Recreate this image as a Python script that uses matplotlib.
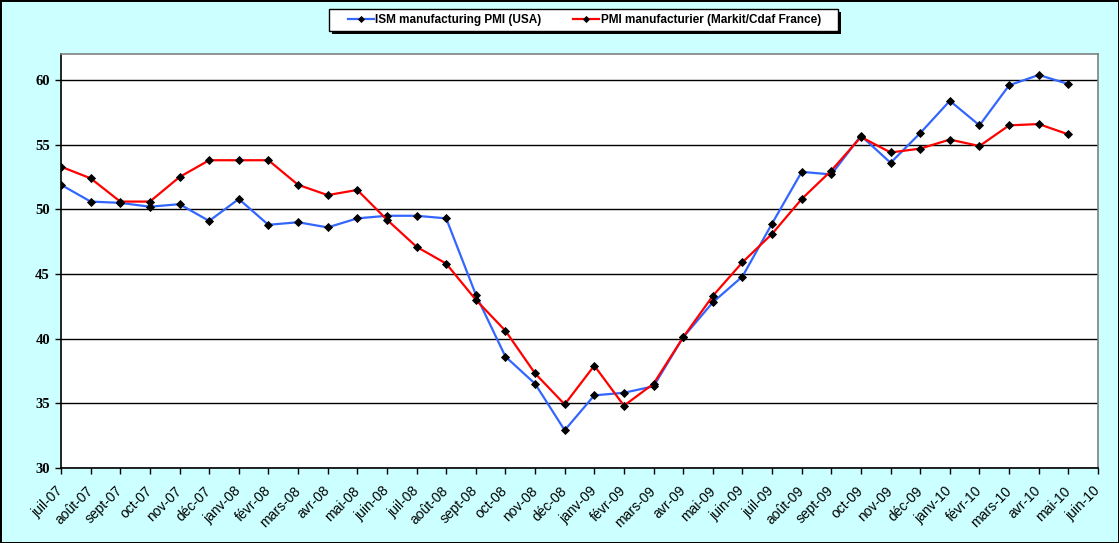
import matplotlib
matplotlib.use("Agg")
import matplotlib.pyplot as plt
import matplotlib.transforms as mtransforms
from matplotlib.patches import Rectangle
import numpy as np

months = ["juil-07", "août-07", "sept-07", "oct-07", "nov-07", "déc-07",
          "janv-08", "févr-08", "mars-08", "avr-08", "mai-08", "juin-08",
          "juil-08", "août-08", "sept-08", "oct-08", "nov-08", "déc-08",
          "janv-09", "févr-09", "mars-09", "avr-09", "mai-09", "juin-09",
          "juil-09", "août-09", "sept-09", "oct-09", "nov-09", "déc-09",
          "janv-10", "févr-10", "mars-10", "avr-10", "mai-10", "juin-10"]

ism_usa = [51.9, 50.6, 50.5, 50.2, 50.4, 49.1, 50.8, 48.8, 49.0, 48.6, 49.3, 49.5,
           49.5, 49.3, 43.4, 38.6, 36.5, 32.9, 35.6, 35.8, 36.3, 40.1, 42.8, 44.8,
           48.9, 52.9, 52.7, 55.7, 53.6, 55.9, 58.4, 56.5, 59.6, 60.4, 59.7]

pmi_france = [53.3, 52.4, 50.6, 50.6, 52.5, 53.8, 53.8, 53.8, 51.9, 51.1, 51.5, 49.2,
              47.1, 45.8, 43.0, 40.6, 37.3, 34.9, 37.9, 34.8, 36.5, 40.1, 43.3, 45.9,
              48.1, 50.8, 53.0, 55.6, 54.4, 54.7, 55.4, 54.9, 56.5, 56.6, 55.8]

label_ism = "ISM manufacturing PMI (USA)"
label_fr = "PMI manufacturier (Markit/Cdaf France)"
y_ticks = [30, 35, 40, 45, 50, 55, 60]

W, H = 1119, 543
fig = plt.figure(figsize=(W / 100, H / 100), dpi=100)
fig.patch.set_facecolor("#CCFFFF")
fig.patch.set_edgecolor("black")
fig.patch.set_linewidth(2)

ax = fig.add_axes([61 / W, 1 - 467.7 / H, (1098 - 61) / W, (467.7 - 54.3) / H])
ax.set_facecolor("white")

x = np.arange(len(months))
ax.plot(x[:len(ism_usa)], ism_usa, color="#3366FF", lw=1.6, marker="D", ms=3.8,
        mfc="black", mec="black", mew=0.6, label=label_ism, zorder=3)
ax.plot(x[:len(pmi_france)], pmi_france, color="#FF0000", lw=1.6, marker="D", ms=3.8,
        mfc="black", mec="black", mew=0.6, label=label_fr, zorder=3)

ax.set_xlim(0, len(months) - 1)
ax.set_ylim(30, 62)
ax.set_yticks(y_ticks)
ax.set_yticklabels([str(v) for v in y_ticks], fontfamily="Liberation Serif",
                   fontweight="bold", fontsize=10.5)
ax.set_xticks(x)
ax.tick_params(axis="x", labelbottom=False, direction="out", length=4, width=1)
ax.tick_params(axis="y", direction="out", length=4, width=1, pad=4)

offset = mtransforms.ScaledTranslation(-5 / 100, -16 / 100, fig.dpi_scale_trans)
lab_tr = ax.get_xaxis_transform() + offset
for i, m in enumerate(months):
    ax.text(i, 0, m, transform=lab_tr, rotation=45, ha="right", va="top",
            rotation_mode="anchor", fontfamily="Liberation Sans", fontsize=10,
            clip_on=False)

ax.yaxis.grid(True, color="black", lw=1)
ax.set_axisbelow(True)

for s in ["left", "bottom"]:
    ax.spines[s].set_color("black")
    ax.spines[s].set_linewidth(1.2)
for s in ["top", "right"]:
    ax.spines[s].set_color("#808080")
    ax.spines[s].set_linewidth(1.2)

# legend box (pixel layout) with black drop shadow
bx0, bx1, by0, by1 = 329, 838, 9, 31
fig.patches.append(Rectangle(((bx0 + 3) / W, 1 - (by1 + 3) / H), (bx1 - bx0) / W,
                             (by1 - by0) / H, transform=fig.transFigure,
                             facecolor="black", edgecolor="none", zorder=1))
fig.patches.append(Rectangle((bx0 / W, 1 - by1 / H), (bx1 - bx0) / W,
                             (by1 - by0) / H, transform=fig.transFigure,
                             facecolor="white", edgecolor="black", lw=1, zorder=2))

leg = fig.legend(loc="center", bbox_to_anchor=(584.5 / W, 1 - 20 / H), ncol=2,
                 frameon=False,
                 prop={"family": "Liberation Sans", "weight": "bold", "size": 8.5},
                 handlelength=2.2, handletextpad=0.15, columnspacing=2.7,
                 borderpad=0, borderaxespad=0, markerscale=0.8)
leg.set_zorder(3)

fig.savefig("out.png", dpi=100, facecolor=fig.get_facecolor(),
            edgecolor=fig.get_edgecolor())
